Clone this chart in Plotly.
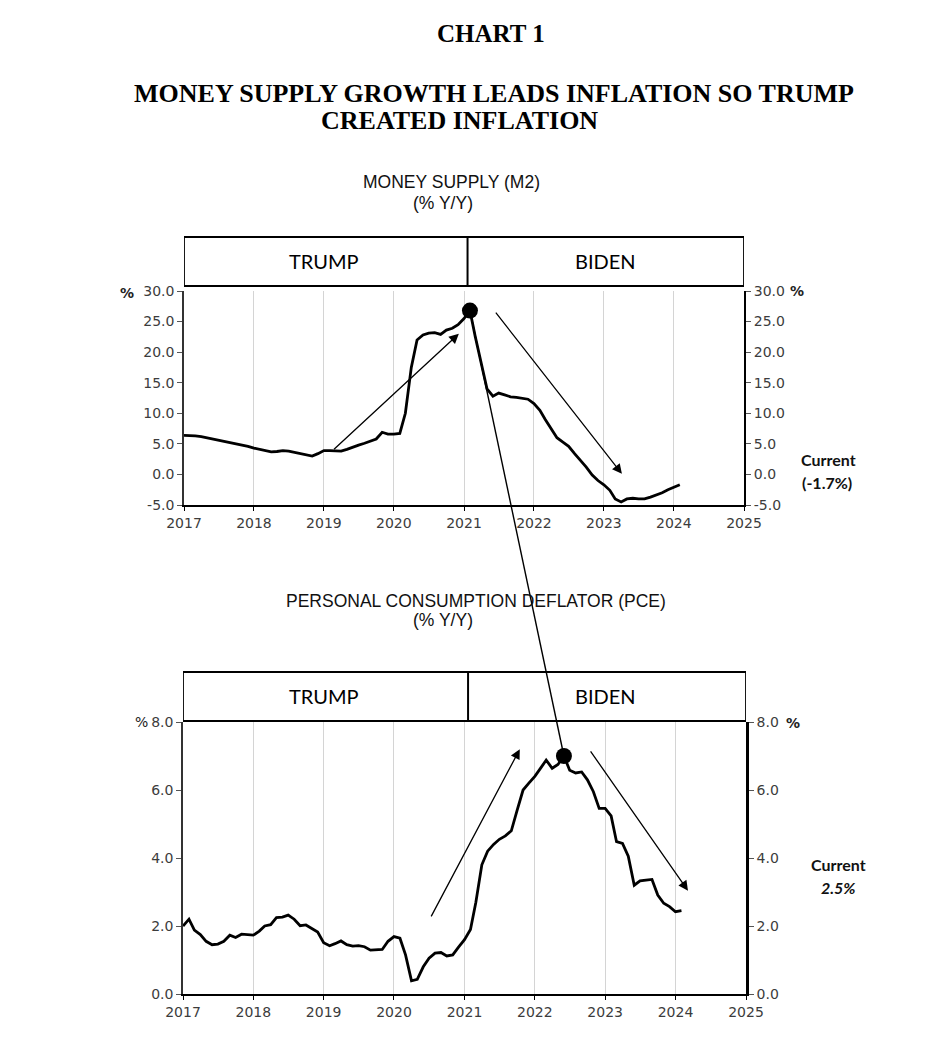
import pandas as pd
import plotly.graph_objects as go

# monthly observations, Jan 2017 .. Feb 2024
months = pd.date_range("2017-01-01", periods=86, freq="MS")

# Money supply (M2), % Y/Y
m2_yoy = [
    6.4, 6.4, 6.3, 6.2, 6.0, 5.8, 5.6, 5.5, 5.3, 5.1, 4.8, 4.6,  # 2017
    4.3, 4.1, 3.9, 3.7, 3.75, 3.9, 3.8, 3.6, 3.4, 3.2, 3.0, 3.4,  # 2018
    3.9, 3.9, 3.85, 3.8, 4.1, 4.5, 4.8, 5.1, 5.4, 5.8, 6.9, 6.6,  # 2019
    6.6, 6.7, 10.0, 17.5, 22.0, 22.8, 23.1, 23.2, 22.9, 23.6, 23.9, 24.5,  # 2020
    25.5, 26.8, 22.5, 18.0, 14.0, 12.8, 13.3, 13.0, 12.7, 12.6, 12.4, 12.3,  # 2021
    11.6, 10.5, 9.0, 7.5, 6.0, 5.3, 4.6, 3.4, 2.3, 1.2, -0.1, -1.0,  # 2022
    -1.7, -2.6, -4.0, -4.5, -4.0, -3.9, -4.0, -4.0, -3.7, -3.4, -3.0, -2.5,  # 2023
    -2.1, -1.7,  # 2024
]

# Personal consumption deflator (PCE), % Y/Y
pce_yoy = [
    2.0, 2.2, 1.88, 1.75, 1.55, 1.45, 1.47, 1.55, 1.73, 1.66, 1.76, 1.74,  # 2017
    1.73, 1.85, 2.0, 2.04, 2.25, 2.26, 2.32, 2.2, 2.01, 2.03, 1.93, 1.82,  # 2018
    1.51, 1.42, 1.48, 1.56, 1.45, 1.41, 1.42, 1.39, 1.29, 1.31, 1.31, 1.55,  # 2019
    1.69, 1.64, 1.15, 0.39, 0.43, 0.8, 1.05, 1.2, 1.22, 1.12, 1.15, 1.38,  # 2020
    1.6, 1.9, 2.7, 3.8, 4.2, 4.4, 4.55, 4.65, 4.8, 5.4, 6.0, 6.2,  # 2021
    6.4, 6.65, 6.88, 6.64, 6.75, 7.0, 6.58, 6.5, 6.53, 6.3, 5.95, 5.46,  # 2022
    5.46, 5.24, 4.48, 4.43, 4.05, 3.2, 3.33, 3.35, 3.37, 2.91, 2.67, 2.57,  # 2023
    2.42, 2.45,  # 2024
]

# trend arrows: (tail date, tail value, head date, head value)
m2_arrows = [
    ("2019-02-15", 3.9, "2020-12-05", 23.0),
    ("2021-06-10", 26.7, "2023-04-05", 0.1),
]
pce_arrows = [
    ("2020-07-08", 2.24, "2021-10-15", 7.2),
    ("2022-10-12", 7.18, "2024-03-06", 3.04),
]

m2_ticks = [-5, 0, 5, 10, 15, 20, 25, 30]
pce_ticks = [0, 2, 4, 6, 8]
m2_current = "(-1.7%)"
pce_current = "<i>2.5%</i>"

X_START, X_END = "2017-01-01", "2025-01-01"
W, H = 950, 1047
OFF = 8  # page body margin
FIG_W, FIG_H = W - 2 * OFF, H - 2 * OFF

TICK_FONT = dict(family="DejaVu Sans", size=14, color="#3c3c3c")


def px(x):
    return (x - OFF) / FIG_W


def py(y):
    return 1 - (y - OFF) / FIG_H


TOP_X = [px(184), px(744)]
TOP_Y = [py(505), py(291)]
BOT_X = [px(183), px(746)]
BOT_Y = [py(994), py(722)]
M2_RANGE = [-5, 30]
PCE_RANGE = [0, 8]


def to_paper(date, val, xdom, ydom, yrange):
    t0 = pd.Timestamp(X_START).value
    t1 = pd.Timestamp(X_END).value
    t = pd.Timestamp(date).value
    xp = xdom[0] + (t - t0) / (t1 - t0) * (xdom[1] - xdom[0])
    yp = ydom[0] + (val - yrange[0]) / (yrange[1] - yrange[0]) * (ydom[1] - ydom[0])
    return xp, yp


m2 = pd.Series(m2_yoy, index=months)
pce = pd.Series(pce_yoy, index=months)
m2_peak = (m2.idxmax(), m2.max())
pce_peak = (pce.idxmax(), pce.max())

fig = go.Figure()

for series, xa, ya in [(m2, "x", "y"), (pce, "x2", "y2")]:
    fig.add_trace(
        go.Scatter(
            x=series.index, y=series.values, mode="lines",
            line=dict(color="black", width=2.8),
            xaxis=xa, yaxis=ya, showlegend=False, hoverinfo="skip",
        )
    )
# invisible copies so the right-hand axes get drawn
for series, xa, ya in [(m2, "x", "y3"), (pce, "x2", "y4")]:
    fig.add_trace(
        go.Scatter(
            x=series.index, y=series.values, mode="lines",
            line=dict(color="rgba(0,0,0,0)", width=0),
            xaxis=xa, yaxis=ya, showlegend=False, hoverinfo="skip",
        )
    )

# peak dots
for (d, v), xa, ya in [(m2_peak, "x", "y"), (pce_peak, "x2", "y2")]:
    fig.add_trace(
        go.Scatter(
            x=[d], y=[v], mode="markers",
            marker=dict(color="black", size=16),
            xaxis=xa, yaxis=ya, showlegend=False, hoverinfo="skip",
        )
    )

xaxis_common = dict(
    type="date", range=[X_START, X_END], tick0=X_START, dtick="M12",
    tickformat="%Y", showgrid=True, gridcolor="#d4d4d4", gridwidth=1,
    showline=True, linecolor="black", linewidth=2, ticks="outside",
    ticklen=4, tickcolor="black", tickfont=TICK_FONT, zeroline=False,
    automargin=False,
)
yaxis_common = dict(
    showgrid=False, zeroline=False, showline=True, linecolor="#333",
    ticks="outside", ticklen=5, tickcolor="#555", tickfont=TICK_FONT,
    tickmode="array", automargin=False,
)
m2_labels = [f"{v:.1f}" for v in m2_ticks]
pce_labels = [f"{v:.1f}" for v in pce_ticks]

fig.update_layout(
    width=FIG_W, height=FIG_H,
    margin=dict(l=0, r=0, t=0, b=0, pad=0),
    paper_bgcolor="white", plot_bgcolor="white",
    xaxis=dict(xaxis_common, domain=TOP_X, anchor="y"),
    yaxis=dict(yaxis_common, domain=TOP_Y, anchor="x", range=M2_RANGE,
               tickvals=m2_ticks, ticktext=m2_labels, linewidth=1.5),
    yaxis3=dict(yaxis_common, overlaying="y", side="right", anchor="x",
                range=M2_RANGE, tickvals=m2_ticks, ticktext=m2_labels,
                linewidth=2, linecolor="black"),
    xaxis2=dict(xaxis_common, domain=BOT_X, anchor="y2"),
    yaxis2=dict(yaxis_common, domain=BOT_Y, anchor="x2", range=PCE_RANGE,
                tickvals=pce_ticks, ticktext=pce_labels, linewidth=1.5),
    yaxis4=dict(yaxis_common, overlaying="y2", side="right", anchor="x2",
                range=PCE_RANGE, tickvals=pce_ticks, ticktext=pce_labels,
                linewidth=2.5, linecolor="black"),
)

# TRUMP / BIDEN header boxes
for xa, y0, y1 in [("x", 286, 237), ("x2", 721, 672)]:
    for a, b in [(X_START, "2021-01-20"), ("2021-01-20", X_END)]:
        fig.add_shape(type="rect", xref=xa, yref="paper", x0=a, x1=b,
                      y0=py(y0), y1=py(y1), line=dict(color="black", width=1.8),
                      fillcolor="white", layer="above")

annotations = []
box_font = dict(family="Lato", size=20, color="black")
for ycen, left, right in [(261, 324, 605), (696, 324, 605)]:
    annotations.append(dict(x=px(left), y=py(ycen), text="TRUMP", font=box_font))
    annotations.append(dict(x=px(right), y=py(ycen), text="BIDEN", font=box_font))

title_font = dict(family="Liberation Serif", size=26, color="black")
annotations += [
    dict(x=px(491), y=py(33), text="<b>CHART 1</b>",
         font=dict(title_font, size=25)),
    dict(x=px(494), y=py(94), text="<b>MONEY SUPPLY GROWTH LEADS INFLATION SO TRUMP</b>",
         font=title_font),
    dict(x=px(459), y=py(121), text="<b>CREATED INFLATION</b>", font=title_font),
]

sub_font = dict(family="Liberation Sans", size=17.5, color="#111")
annotations += [
    dict(x=px(451), y=py(182), text="MONEY SUPPLY (M2)", font=sub_font),
    dict(x=px(443), y=py(203), text="(% Y/Y)", font=sub_font),
    dict(x=px(476), y=py(601), text="PERSONAL CONSUMPTION DEFLATOR (PCE)", font=sub_font),
    dict(x=px(443), y=py(620), text="(% Y/Y)", font=sub_font),
]

pct_font = dict(family="DejaVu Sans", size=14, color="#222")
annotations += [
    dict(x=px(127), y=py(293), text="<b>%</b>", font=pct_font),
    dict(x=px(797), y=py(291), text="<b>%</b>", font=pct_font),
    dict(x=px(141), y=py(722), text="%", font=pct_font),
    dict(x=px(793), y=py(723), text="<b>%</b>", font=pct_font),
]

cur_font = dict(family="Lato", size=16, color="#111")
annotations += [
    dict(x=px(828), y=py(459), text="<b>Current</b>", font=cur_font),
    dict(x=px(827), y=py(482), text="<b>" + m2_current + "</b>", font=cur_font),
    dict(x=px(838), y=py(864), text="<b>Current</b>", font=cur_font),
    dict(x=px(838), y=py(887), text="<b>" + pce_current + "</b>", font=cur_font),
]
for a in annotations:
    a.update(xref="paper", yref="paper", showarrow=False,
             xanchor="center", yanchor="middle")

# trend arrows
for arrows, xa, ya in [(m2_arrows, "x", "y"), (pce_arrows, "x2", "y2")]:
    for td, tv, hd, hv in arrows:
        annotations.append(dict(
            x=hd, y=hv, ax=td, ay=tv, xref=xa, yref=ya, axref=xa, ayref=ya,
            text="", showarrow=True, arrowhead=2, arrowsize=1.5,
            arrowwidth=1.3, arrowcolor="black",
        ))

fig.update_layout(annotations=annotations)

# line linking the two peaks
x0, y0 = to_paper(m2_peak[0], m2_peak[1], TOP_X, TOP_Y, M2_RANGE)
x1, y1 = to_paper(pce_peak[0], pce_peak[1], BOT_X, BOT_Y, PCE_RANGE)
fig.add_shape(type="line", xref="paper", yref="paper", x0=x0, y0=y0, x1=x1, y1=y1,
              line=dict(color="black", width=1.4), layer="above")

fig.write_html("out.html")
